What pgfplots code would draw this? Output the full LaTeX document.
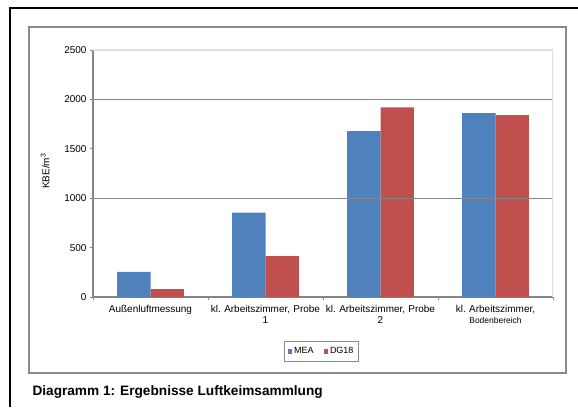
\documentclass[border=0pt]{standalone}
\usepackage{pgfplots}
\pgfplotsset{compat=1.18}
\usepackage{fontspec}
\setmainfont{Liberation Sans}
\definecolor{mea}{HTML}{4F81BD}
\definecolor{dg}{HTML}{C0504D}
\definecolor{axgray}{HTML}{858585}
\definecolor{boxgray}{HTML}{8A8A8A}

\begin{document}
\begin{tikzpicture}[x=1bp,y=1bp]
\useasboundingbox (0,0) rectangle (578,407);
% page frame and chart frame
\draw[black, line width=1.2bp] (10,0) -- (10,399) -- (578,399);
\draw[boxgray, line width=1.8bp] (29,34) rectangle (566,380);
\begin{axis}[
    at={(93bp,110bp)}, anchor=south west,
    width=460bp, height=247bp, scale only axis,
    ybar=0pt,
    bar width=0.29,
    xmin=-0.5, xmax=3.5,
    ymin=0, ymax=2500,
    ytick={0,500,...,2500},
    xtick={-0.5,0.5,1.5,2.5,3.5},
    xticklabels={,,,,,},
    extra x ticks={0,1,2,3},
    extra x tick labels={Außenluftmessung,
        kl.\ Arbeitszimmer{,} Probe\\1,
        kl.\ Arbeitszimmer{,} Probe\\2,
        kl.\ Arbeitszimmer{,}\\{\fontsize{8.5}{10}\selectfont Bodenbereich}},
    extra x tick style={tick style={draw=none}},
    xticklabel style={align=center, text width=125bp, font=\fontsize{10}{11}\selectfont, yshift=-2bp},
    yticklabel style={font=\fontsize{10}{11}\selectfont},
    /pgf/number format/assume math mode=true,
    /pgf/number format/1000 sep={},
    axis x line*=bottom, axis y line*=left,
    axis line style={axgray, line width=1.4bp, -},
    tick align=outside,
    major tick length=3bp,
    tick style={axgray, line width=0.8bp},
    ylabel={KBE/m\textsuperscript{3}},
    ylabel style={at={(axis description cs:-0.104,0.51)}, anchor=center, font=\fontsize{10}{11}\selectfont},
    legend style={at={(0.497,-0.2206)}, anchor=center, draw=boxgray, line width=1bp,
        font=\fontsize{9}{10}\selectfont, legend columns=2,
        inner xsep=3bp, inner ysep=4bp,
        /tikz/every even column/.append style={column sep=8bp}},
    legend image code/.code={\fill[#1] (0bp,-2.2bp) rectangle (4.4bp,2.2bp);},
]
\addplot[fill=mea, draw=none] coordinates {(0,255) (1,855) (2,1680) (3,1860)};
\addplot[fill=dg, draw=none] coordinates {(0,80) (1,415) (2,1920) (3,1840)};
\legend{MEA,DG18}
\draw[axgray, line width=1.2bp] (rel axis cs:0,0.4) -- (rel axis cs:1,0.4);
\draw[axgray, line width=1.2bp] (rel axis cs:0,0.8) -- (rel axis cs:1,0.8);
\draw[gray!25, line width=1.2bp] (rel axis cs:0,1) -- (rel axis cs:1,1) -- (rel axis cs:1,0);
\end{axis}
\node[anchor=west, font=\bfseries\fontsize{13.7}{15}\selectfont] at (29,15) {Diagramm 1: Ergebnisse Luftkeimsammlung};
\end{tikzpicture}
\end{document}
